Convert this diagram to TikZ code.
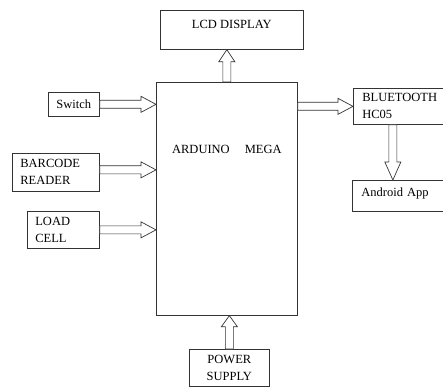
\documentclass[tikz,border=0pt]{standalone}
\usepackage{fontspec}
\setmainfont{Liberation Serif}
\usetikzlibrary{calc,positioning}

% hollow block arrow from #2 to #3, head length #1
\newcommand{\hollowarrow}[3][13pt]{%
  \coordinate (ha-s) at (#2);
  \coordinate (ha-e) at (#3);
  \coordinate (ha-m) at ($(ha-e)!#1!(ha-s)$);
  \draw[harrow] ($(ha-s)!4pt!90:(ha-e)$) -- ($(ha-m)!4pt!-90:(ha-s)$)
    -- ($(ha-m)!8pt!-90:(ha-s)$) -- (ha-e) -- ($(ha-m)!8pt!90:(ha-s)$)
    -- ($(ha-m)!4pt!90:(ha-s)$) -- ($(ha-s)!4pt!-90:(ha-e)$) -- cycle;}

\begin{document}
\begin{tikzpicture}[
  x=1pt, y=-1pt,
  every node/.style={font=\fontsize{12.5}{17}\selectfont},
  box/.style={rectangle, draw=black!80, line width=0.7pt, inner sep=0pt},
  leftbox/.style={box, align=left, inner xsep=8pt},
  harrow/.style={draw=black!80, line width=0.7pt, fill=white},
]
\useasboundingbox (0,0) rectangle (443,387);

% Main board
\node[box, minimum width=141pt, text height=71pt, text depth=162pt,
  anchor=north west] (ard) at (156,82) {ARDUINO\hspace{15pt}MEGA};

% Outputs
\node[box, minimum width=143pt, text height=18pt, text depth=21pt,
  anchor=north west] (lcd) at (160,10) {LCD DISPLAY};
\node[leftbox, inner xsep=9pt, text width=73pt, minimum height=36pt,
  anchor=north west] (bt) at (353,88) {BLUETOOTH\\HC05};
\node[leftbox, inner xsep=9pt, text width=74pt, text height=16pt, text depth=15pt,
  anchor=north west] (app) at (352,180) {Android App};

% Inputs
\node[box, minimum width=51pt, minimum height=24pt,
  anchor=north west] (sw) at (48,92) {Switch};
\node[leftbox, text width=71pt, minimum height=38pt,
  anchor=north west] (bar) at (12,153) {BARCODE\\READER};
\node[leftbox, text width=56pt, minimum height=37pt,
  anchor=north west] (load) at (27,211) {LOAD\\CELL};
\node[box, align=center, minimum width=80pt, minimum height=37pt,
  anchor=north west] (pow) at (189,349) {POWER\\SUPPLY};

% Arrows
\hollowarrow[12pt]{ard.north}{ard.north |- lcd.south}
\hollowarrow[15pt]{sw.east}{sw.east -| ard.west}
\hollowarrow[15pt]{[yshift=2.5pt]bar.east}{[yshift=2.5pt]bar.east -| ard.west}
\hollowarrow[15pt]{load.east}{load.east -| ard.west}
\hollowarrow[15pt]{ard.east |- bt.west}{bt.west}
\hollowarrow[18pt]{[xshift=-6pt]bt.south}{[xshift=-6pt]bt.south |- app.north}
\hollowarrow[11pt]{pow.north}{pow.north |- ard.south}

\end{tikzpicture}
\end{document}
